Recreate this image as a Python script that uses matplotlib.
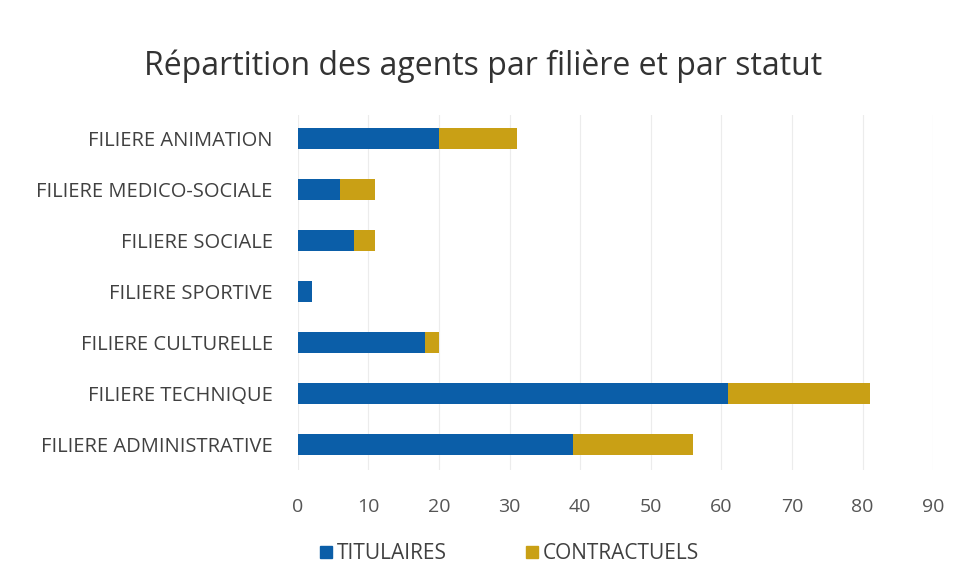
import numpy as np
import matplotlib.pyplot as plt
from matplotlib.patches import Patch

plt.rcParams['font.family'] = ['Open Sans', 'DejaVu Sans']

# data (top to bottom as in the chart)
filieres = ['FILIERE ANIMATION', 'FILIERE MEDICO-SOCIALE', 'FILIERE SOCIALE',
            'FILIERE SPORTIVE', 'FILIERE CULTURELLE', 'FILIERE TECHNIQUE',
            'FILIERE ADMINISTRATIVE']
titulaires = [20, 6, 8, 2, 18, 61, 39]
contractuels = [11, 5, 3, 0, 2, 20, 17]

blue = '#0b5ea8'
gold = '#c9a015'
text_col = '#404040'

fig = plt.figure(figsize=(9.67, 5.86), dpi=100)
ax = fig.add_axes([0.308, 0.198, 0.657, 0.605])

y = np.arange(len(filieres))
ax.barh(y, titulaires, height=0.42, color=blue, label='TITULAIRES', zorder=3)
ax.barh(y, contractuels, left=titulaires, height=0.42, color=gold,
        label='CONTRACTUELS', zorder=3)

ax.set_ylim(len(filieres) - 0.5, -0.45)
ax.set_xlim(0, 90)
ax.set_xticks(np.arange(0, 91, 10))
ax.set_yticks(y)
ax.set_yticklabels(filieres, fontsize=14.5, color=text_col)
ax.tick_params(axis='x', labelsize=14, colors='#555555', length=0, pad=20)
ax.tick_params(axis='y', length=0, pad=18)
for s in ax.spines.values():
    s.set_visible(False)
ax.grid(axis='x', color='#ececec', linewidth=0.8, zorder=0)

fig.suptitle('Répartition des agents par filière et par statut', fontsize=23,
             color='#333333', y=0.915)

handles = [Patch(color=blue, label='TITULAIRES'),
           Patch(color=gold, label='CONTRACTUELS')]
fig.legend(handles=handles, loc='center', bbox_to_anchor=(0.527, 0.055), ncol=2,
           frameon=False, fontsize=15, handlelength=0.55, handleheight=0.55,
           handletextpad=0.25, columnspacing=3.8, labelcolor=text_col)

fig.savefig('out.png', dpi=100, facecolor='white')
